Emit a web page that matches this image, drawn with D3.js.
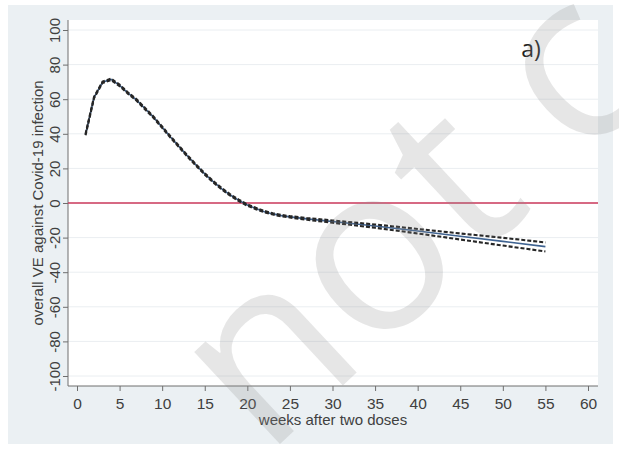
<!DOCTYPE html>
<html>
<head>
<meta charset="utf-8">
<script src="https://cdn.jsdelivr.net/npm/d3@7"></script>
<style>
  body { margin: 0; background: #ffffff; }
  svg text { font-family: "Liberation Sans", Arial, sans-serif; }
</style>
</head>
<body>
<div id="chart"></div>
<script>
var width = 619, height = 450;

// weeks after the second dose
var weeks = [1,2,3,4,5,6,7,8,9,10,11,12,13,14,15,16,17,18,19,20,21,22,23,24,25,26,27,28,29,30,35,40,45,50,55];
// overall VE (%) and its confidence band
var ve = [39.5,61,69.8,71.5,68,63.5,59.5,54.5,49.5,43.8,38,32.5,27,21.8,16.8,12.3,8.2,4.6,1.5,-1.2,-3.2,-5,-6.3,-7.3,-8,-8.6,-9.2,-9.7,-10.2,-10.7,-13.3,-16.2,-19.2,-22.2,-25.2];
var veUpper = [39.9,61.4,70.2,71.9,68.4,63.9,59.9,54.9,49.9,44.2,38.4,32.9,27.4,22.2,17.2,12.7,8.6,5.0,1.9,-0.8,-2.8,-4.6,-5.9,-6.9,-7.6,-8.1,-8.7,-9.1,-9.6,-10.1,-12.4,-15.0,-17.6,-20.1,-22.8];
var veLower = [39.1,60.6,69.4,71.1,67.6,63.1,59.1,54.1,49.1,43.4,37.6,32.1,26.6,21.4,16.4,11.9,7.8,4.2,1.1,-1.6,-3.6,-5.4,-6.7,-7.7,-8.4,-9.1,-9.7,-10.3,-10.8,-11.4,-14.3,-17.6,-21.1,-24.6,-28.0];

var xTicks = [0,5,10,15,20,25,30,35,40,45,50,55,60];
var yTicks = [-100,-80,-60,-40,-20,0,20,40,60,80,100];

var plot = {left: 68, right: 598, top: 20, bottom: 386};

var svg = d3.select("#chart").append("svg")
    .attr("width", width)
    .attr("height", height);

// graph region (light blue-grey) and white plot region
svg.append("rect")
    .attr("x", 8).attr("y", 5)
    .attr("width", 605).attr("height", 439)
    .attr("fill", "#ebf0f3");

svg.append("rect")
    .attr("x", plot.left).attr("y", plot.top)
    .attr("width", plot.right - plot.left).attr("height", plot.bottom - plot.top)
    .attr("fill", "#ffffff");

var x = d3.scaleLinear().domain([0, 60]).range([77, 588]);
var y = d3.scaleLinear().domain([-100, 100]).range([376, 30]);

// grid lines
svg.append("g").selectAll("line")
    .data(yTicks)
    .enter()
    .append("line")
    .attr("x1", plot.left).attr("x2", plot.right)
    .attr("y1", d => y(d)).attr("y2", d => y(d))
    .attr("stroke", "#eaeef1")
    .attr("stroke-width", 1);

// y axis
var yAxis = svg.append("g")
    .attr("transform", `translate(${plot.left},0)`)
    .call(d3.axisLeft(y).tickValues(yTicks).tickSize(5).tickFormat(d => d));
yAxis.select(".domain").remove();
yAxis.selectAll(".tick line").attr("stroke", "#6e6e6e");
yAxis.selectAll(".tick text")
    .attr("transform", "rotate(-90)")
    .attr("x", 0).attr("y", -8).attr("dy", 0)
    .attr("text-anchor", "middle")
    .attr("fill", "#404040")
    .style("font-size", "15px");
svg.append("line")
    .attr("x1", plot.left).attr("x2", plot.left)
    .attr("y1", plot.top).attr("y2", plot.bottom)
    .attr("stroke", "#6e6e6e");

// x axis
var xAxis = svg.append("g")
    .attr("transform", `translate(0,${plot.bottom})`)
    .call(d3.axisBottom(x).tickValues(xTicks).tickSize(5).tickFormat(d => d));
xAxis.select(".domain").remove();
xAxis.selectAll(".tick line").attr("stroke", "#6e6e6e");
xAxis.selectAll(".tick text")
    .attr("y", 23).attr("dy", 0)
    .attr("fill", "#404040")
    .style("font-size", "15.5px");
svg.append("line")
    .attr("x1", plot.left).attr("x2", plot.right)
    .attr("y1", plot.bottom).attr("y2", plot.bottom)
    .attr("stroke", "#6e6e6e");

// axis titles
svg.append("text")
    .attr("transform", `translate(43,${(plot.top + plot.bottom) / 2}) rotate(-90)`)
    .attr("text-anchor", "middle")
    .attr("fill", "#404040")
    .style("font-size", "15px")
    .text("overall VE against Covid-19 infection");

svg.append("text")
    .attr("x", (plot.left + plot.right) / 2)
    .attr("y", 425)
    .attr("text-anchor", "middle")
    .attr("fill", "#404040")
    .style("font-size", "15px")
    .text("weeks after two doses");

// reference line at 0
svg.append("line")
    .attr("x1", plot.left).attr("x2", plot.right)
    .attr("y1", y(0)).attr("y2", y(0))
    .attr("stroke", "#cc3a5c")
    .attr("stroke-width", 1.6);

var rows = weeks.map((w, i) => ({w: w, v: ve[i], hi: veUpper[i], lo: veLower[i]}));

svg.append("path")
    .datum(rows)
    .attr("fill", "none")
    .attr("stroke", "#3f6391")
    .attr("stroke-width", 1.6)
    .attr("d", d3.line().x(d => x(d.w)).y(d => y(d.v)));

["hi", "lo"].forEach(k => {
    svg.append("path")
        .datum(rows)
        .attr("fill", "none")
        .attr("stroke", "#262626")
        .attr("stroke-width", 2.1)
        .attr("stroke-dasharray", "4,2")
        .attr("d", d3.line().x(d => x(d.w)).y(d => y(d[k])));
});

// panel label
svg.append("text")
    .attr("x", 531).attr("y", 57)
    .attr("text-anchor", "middle")
    .attr("fill", "#222222")
    .style("font-family", "'Open Sans', 'Noto Sans', sans-serif")
    .style("font-size", "23px")
    .text("a)");

// watermark over the page, placed around the centre of its "o"
svg.append("text")
    .attr("transform", "translate(378,265) rotate(-43)")
    .attr("x", -214).attr("y", 64)
    .attr("fill", "#8c8c8c")
    .attr("fill-opacity", 0.22)
    .style("font-family", "'Open Sans', 'Noto Sans', sans-serif")
    .style("font-size", "235px")
    .text("not c");
</script>
</body>
</html>
